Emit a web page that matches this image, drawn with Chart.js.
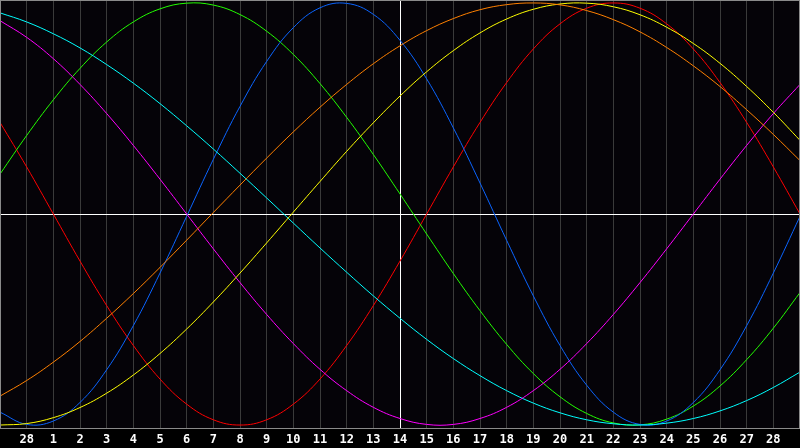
<!DOCTYPE html>
<html>
<head>
<meta charset="utf-8">
<script src="https://cdn.jsdelivr.net/npm/chart.js@4/dist/chart.umd.min.js"></script>
<style>
html,body{margin:0;padding:0;background:#000;}
#wrap{width:800px;height:448px;}
</style>
</head>
<body>
<div id="wrap"><canvas id="c" width="800" height="448"></canvas></div>
<script>
// day positions (gridline index) and their labels
const positions = [0,1,2,3,4,5,6,7,8,9,10,11,12,13,14,15,16,17,18,19,20,21,22,23,24,25,26,27,28,29,30];
const dayLabels = ["","28","1","2","3","4","5","6","7","8","9","10","11","12","13","14","15","16","17","18","19","20","21","22","23","24","25","26","27","28",""];
const todayPos = 15;

// series values (-1..1) read at each day position
const redSeries = [0.434,0.223,0,-0.223,-0.434,-0.623,-0.782,-0.901,-0.975,-1,-0.975,-0.901,-0.782,-0.623,-0.434,-0.223,0,0.223,0.434,0.623,0.782,0.901,0.975,1,0.975,0.901,0.782,0.623,0.434,0.223,0];
const greenSeries = [0.189,0.372,0.541,0.690,0.815,0.910,0.972,0.999,0.990,0.945,0.866,0.756,0.618,0.458,0.282,0.095,-0.095,-0.282,-0.458,-0.618,-0.756,-0.866,-0.945,-0.990,-0.999,-0.972,-0.910,-0.815,-0.690,-0.541,-0.372];
const blueSeries = [-0.939,-0.997,-0.981,-0.893,-0.738,-0.529,-0.280,-0.011,0.259,0.510,0.723,0.883,0.977,0.998,0.946,0.823,0.640,0.408,0.147,-0.125,-0.388,-0.623,-0.811,-0.939,-0.997,-0.981,-0.893,-0.738,-0.529,-0.280,-0.011];
const cyanSeries = [0.953,0.910,0.854,0.787,0.708,0.620,0.523,0.418,0.308,0.193,0.076,-0.043,-0.161,-0.276,-0.388,-0.494,-0.594,-0.685,-0.766,-0.837,-0.896,-0.942,-0.975,-0.994,-1.000,-0.991,-0.969,-0.933,-0.884,-0.822,-0.749];
const magentaSeries = [0.916,0.837,0.736,0.614,0.476,0.325,0.165,0,-0.165,-0.325,-0.476,-0.614,-0.736,-0.837,-0.916,-0.969,-0.997,-0.997,-0.969,-0.916,-0.837,-0.736,-0.614,-0.476,-0.325,-0.165,0,0.165,0.325,0.476,0.614];
const yellowSeries = [-1.000,-0.993,-0.965,-0.917,-0.849,-0.763,-0.661,-0.545,-0.417,-0.280,-0.137,0.009,0.154,0.297,0.432,0.559,0.674,0.774,0.858,0.924,0.970,0.995,0.999,0.982,0.944,0.885,0.808,0.714,0.604,0.482,0.349];
const orangeSeries = [-0.863,-0.789,-0.702,-0.604,-0.494,-0.377,-0.253,-0.124,0.007,0.137,0.265,0.389,0.506,0.614,0.712,0.797,0.869,0.926,0.968,0.992,1.000,0.991,0.964,0.921,0.863,0.789,0.702,0.604,0.494,0.377,0.253];

const seriesList = [
  {name:"orange", data:orangeSeries, color:"#ff8000"},
  {name:"yellow", data:yellowSeries, color:"#ffff00"},
  {name:"magenta", data:magentaSeries, color:"#ff00ff"},
  {name:"cyan", data:cyanSeries, color:"#00ffff"},
  {name:"blue", data:blueSeries, color:"#0a64ff"},
  {name:"green", data:greenSeries, color:"#22ff00"},
  {name:"red", data:redSeries, color:"#ff0000"}
];

const bgPlugin = {
  id:'bg',
  beforeDraw(chart){
    const ctx = chart.ctx, a = chart.chartArea;
    ctx.save();
    ctx.fillStyle = '#000000';
    ctx.fillRect(0,0,chart.width,chart.height);
    ctx.fillStyle = '#050308';
    ctx.fillRect(a.left,a.top,a.right-a.left,a.bottom-a.top);
    ctx.restore();
  },
  afterDatasetsDraw(chart){
    const ctx = chart.ctx, a = chart.chartArea;
    ctx.save();
    ctx.strokeStyle = '#8a8a8a';
    ctx.lineWidth = 1;
    ctx.strokeRect(a.left+0.5,a.top+0.5,a.right-a.left-1,a.bottom-a.top);
    ctx.restore();
  }
};

new Chart(document.getElementById('c'), {
  type:'line',
  data:{
    datasets: seriesList.map(s => ({
      label:s.name,
      data: positions.map((p,i)=>({x:p,y:s.data[i]})),
      borderColor:s.color,
      borderWidth:1,
      pointRadius:0,
      tension:0.4,
      fill:false
    }))
  },
  options:{
    responsive:false,
    animation:false,
    devicePixelRatio:1,
    layout:{padding:0},
    plugins:{legend:{display:false},tooltip:{enabled:false}},
    scales:{
      x:{
        type:'linear',
        min:0,max:30,
        afterFit(s){ s.height = 20; s.paddingLeft = 0; s.paddingRight = 0; },
        grid:{
          drawTicks:false,
          color:(c)=> c.tick && c.tick.value===todayPos ? '#ffffff' : '#3a3a3a',
          lineWidth:1
        },
        border:{display:false},
        ticks:{
          stepSize:1,
          autoSkip:false,
          maxRotation:0,
          padding:5,
          color:'#ffffff',
          font:{family:'DejaVu Sans Mono', size:12, weight:'bold'},
          callback:(v)=> dayLabels[v] !== undefined ? dayLabels[v] : ''
        }
      },
      y:{
        min:-1.014,max:1.014,
        display:true,
        afterFit(s){ s.width = 0; s.paddingTop = 0; s.paddingBottom = 0; },
        ticks:{display:false, stepSize:1.014},
        border:{display:false},
        grid:{
          drawTicks:false,
          color:(c)=> c.tick && Math.abs(c.tick.value)<1e-6 ? '#ffffff' : 'rgba(0,0,0,0)'
        }
      }
    }
  },
  plugins:[bgPlugin]
});
</script>
</body>
</html>
